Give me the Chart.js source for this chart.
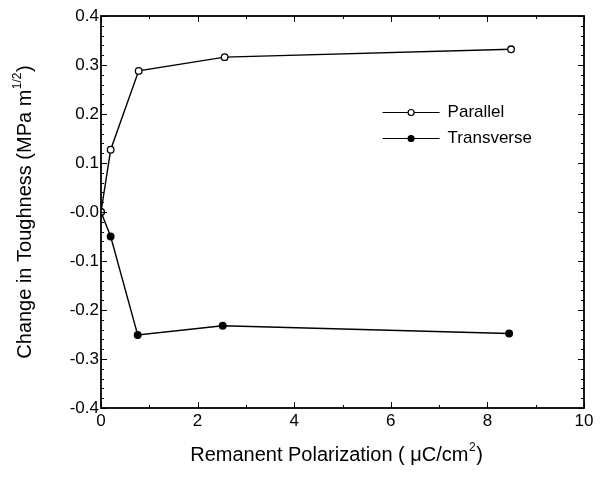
<!DOCTYPE html>
<html>
<head>
<meta charset="utf-8">
<script src="https://cdn.jsdelivr.net/npm/chart.js@4.4.0/dist/chart.umd.min.js"></script>
<style>
html,body{margin:0;padding:0;background:#fff;}
#wrap{width:609px;height:491px;position:relative;}
</style>
</head>
<body>
<div id="wrap"><canvas id="c" width="609" height="491"></canvas></div>
<script>
// Data
const seriesNames = ["Parallel", "Transverse"];
const xParallel = [0, 0.2, 0.78, 2.56, 8.49];
const yParallel = [0, 0.127, 0.288, 0.316, 0.332];
const xTransverse = [0, 0.2, 0.76, 2.52, 8.45];
const yTransverse = [0, -0.05, -0.251, -0.232, -0.248];
const xTicks = [0, 2, 4, 6, 8, 10];
const yTicks = [-0.4, -0.3, -0.2, -0.1, 0, 0.1, 0.2, 0.3, 0.4];
const xTitle = ["Remanent Polarization ( \u03BCC/cm", "2", ")"];
const yTitle = ["Change in Toughness (MPa m", "1/2", ")"];

const FONT = '"Liberation Sans", Arial, Helvetica, sans-serif';

function pts(xs, ys){ return xs.map((x,i)=>({x:x, y:ys[i]})); }

function drawSupText(ctx, parts, size){
  ctx.font = size + 'px ' + FONT;
  const w0 = ctx.measureText(parts[0]).width;
  const w2 = ctx.measureText(parts[2]).width;
  ctx.font = Math.round(size*0.6) + 'px ' + FONT;
  const w1 = ctx.measureText(parts[1]).width;
  const total = w0 + w1 + w2 + 1;
  let x = -total/2;
  ctx.textBaseline = 'middle';
  ctx.textAlign = 'left';
  ctx.font = size + 'px ' + FONT;
  ctx.fillText(parts[0], x, 0); x += w0 + 0.5;
  ctx.font = Math.round(size*0.6) + 'px ' + FONT;
  ctx.fillText(parts[1], x, -size*0.38); x += w1 + 0.5;
  ctx.font = size + 'px ' + FONT;
  ctx.fillText(parts[2], x, 0);
}

const framePlugin = {
  id: 'frame',
  afterDraw(chart){
    const ctx = chart.ctx;
    const a = chart.chartArea;
    const xs = chart.scales.x, ys = chart.scales.y;
    ctx.save();
    ctx.strokeStyle = '#000';
    ctx.lineWidth = 1.8;
    ctx.strokeRect(a.left, a.top, a.right - a.left, a.bottom - a.top);
    ctx.lineWidth = 1;
    for (let v = xs.min; v <= xs.max + 1e-9; v += 1) {
      const px = Math.round(xs.getPixelForValue(v)) + 0.5;
      const len = (Math.round(v) % 2 === 0) ? 6 : 3;
      ctx.beginPath();
      ctx.moveTo(px, a.bottom); ctx.lineTo(px, a.bottom - len);
      ctx.moveTo(px, a.top); ctx.lineTo(px, a.top + len);
      ctx.stroke();
    }
    for (let i = 0; i <= 40; i++) {
      const v = ys.min + i * 0.02;
      const py = Math.round(ys.getPixelForValue(v)) + 0.5;
      const len = (i % 5 === 0) ? 6 : 3;
      ctx.beginPath();
      ctx.moveTo(a.left, py); ctx.lineTo(a.left + len, py);
      ctx.moveTo(a.right, py); ctx.lineTo(a.right - len, py);
      ctx.stroke();
    }
    ctx.fillStyle = '#000';
    ctx.save();
    ctx.translate((a.left + a.right)/2 - 6, 455);
    drawSupText(ctx, xTitle, 20);
    ctx.restore();
    ctx.save();
    ctx.translate(25, (a.top + a.bottom)/2);
    ctx.rotate(-Math.PI/2);
    drawSupText(ctx, yTitle, 20);
    ctx.restore();
    const ds = chart.data.datasets;
    const lx0 = a.left + (a.right - a.left) * 0.583;
    const lx1 = lx0 + 57;
    const ly0 = a.top + (a.bottom - a.top) * 0.245;
    ds.forEach((d, i) => {
      const y = Math.round(ly0 + i * 26) + 0.5;
      ctx.strokeStyle = '#000';
      ctx.lineWidth = 1.2;
      ctx.beginPath(); ctx.moveTo(lx0, y); ctx.lineTo(lx1, y); ctx.stroke();
      const mx = (lx0 + lx1) / 2;
      ctx.beginPath(); ctx.arc(mx, y, 3, 0, Math.PI*2);
      ctx.fillStyle = d.pointBackgroundColor; ctx.fill();
      ctx.lineWidth = 1.2; ctx.stroke();
      ctx.fillStyle = '#000';
      ctx.font = '17px ' + FONT;
      ctx.textAlign = 'left'; ctx.textBaseline = 'middle';
      ctx.fillText(d.label, lx1 + 8, y);
    });
    ctx.restore();
  }
};

new Chart(document.getElementById('c'), {
  type: 'scatter',
  data: {
    datasets: [
      {
        label: seriesNames[0],
        data: pts(xParallel, yParallel),
        showLine: true,
        borderColor: '#000',
        borderWidth: 1.4,
        pointRadius: 3.3,
        pointBorderWidth: 1.3,
        pointBackgroundColor: '#fff',
        pointBorderColor: '#000',
        tension: 0
      },
      {
        label: seriesNames[1],
        data: pts(xTransverse, yTransverse),
        showLine: true,
        borderColor: '#000',
        borderWidth: 1.4,
        pointRadius: 3.3,
        pointBorderWidth: 1.3,
        pointBackgroundColor: '#000',
        pointBorderColor: '#000',
        tension: 0
      }
    ]
  },
  options: {
    responsive: false,
    animation: false,
    devicePixelRatio: 1,
    layout: { padding: { left: 0, top: 16, right: 25, bottom: 0 } },
    plugins: { legend: { display: false }, tooltip: { enabled: false } },
    scales: {
      x: {
        type: 'linear',
        min: 0, max: 10,
        grid: { display: false, drawTicks: false },
        border: { display: false },
        afterBuildTicks: (s) => { s.ticks = xTicks.map(v => ({ value: v })); },
        ticks: {
          color: '#000',
          padding: 3,
          font: { family: FONT, size: 17 },
          maxRotation: 0,
          callback: (v) => String(Math.round(v))
        },
        afterFit: (s) => { s.height = 83; }
      },
      y: {
        type: 'linear',
        min: -0.4, max: 0.4,
        grid: { display: false, drawTicks: false },
        border: { display: false },
        afterBuildTicks: (s) => { s.ticks = yTicks.map(v => ({ value: v })); },
        ticks: {
          color: '#000',
          padding: 2,
          font: { family: FONT, size: 17 },
          callback: (v) => {
            const r = Math.round(v * 10) / 10;
            return r === 0 ? '-0.0' : r.toFixed(1);
          }
        },
        afterFit: (s) => { s.width = 101; }
      }
    }
  },
  plugins: [framePlugin]
});
</script>
</body>
</html>
